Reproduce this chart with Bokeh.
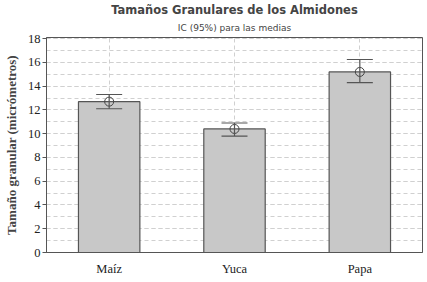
from bokeh.plotting import figure
from bokeh.models import ColumnDataSource, Whisker, TeeHead, Title, FixedTicker
from bokeh.embed import file_html
from bokeh.resources import INLINE

categories = ["Maíz", "Yuca", "Papa"]
means = [12.7, 10.4, 15.2]
lower = [12.1, 9.8, 14.3]
upper = [13.3, 10.9, 16.25]
y_ticks = [0, 2, 4, 6, 8, 10, 12, 14, 16, 18]

src = ColumnDataSource(dict(cat=categories, mean=means, lo=lower, hi=upper))

p = figure(x_range=categories, y_range=(0, 18.1), frame_width=376, frame_height=215,
           output_backend="svg", toolbar_location=None,
           min_border_left=2, min_border_right=2, min_border_bottom=2,
           min_border_top=2)
p.background_fill_color = "white"
p.border_fill_color = "white"
p.outline_line_color = "#555555"
p.outline_line_width = 1

p.title.text = "Tamaños Granulares de los Almidones"
p.title.text_font = "DejaVu Sans"
p.title.text_font_style = "bold"
p.title.text_font_size = "11.5px"
p.title.align = "center"
p.title.offset = -12
p.title.standoff = 0
sub = Title(text="IC (95%) para las medias", text_font="DejaVu Sans",
            text_font_style="normal", text_font_size="9px", align="center",
            offset=-12, standoff=9)
p.add_layout(sub, "above")

p.vbar(x="cat", top="mean", width=0.49, source=src, fill_color="#c8c8c8",
       line_color="#555555", line_width=1.2)

w = Whisker(base="cat", lower="lo", upper="hi", source=src, level="overlay",
            line_color="#555555", line_width=1.2,
            upper_head=TeeHead(size=26, line_color="#555555", line_width=1.2),
            lower_head=TeeHead(size=26, line_color="#555555", line_width=1.2))
p.add_layout(w)
p.scatter(x="cat", y="mean", source=src, marker="circle", size=9, level="overlay",
          fill_color=None, line_color="#444444", line_width=1)

p.yaxis.ticker = FixedTicker(ticks=y_ticks, minor_ticks=list(range(0, 19)))
p.yaxis.axis_label = "Tamaño granular (micrómetros)"
p.yaxis.axis_label_text_font = "Liberation Serif"
p.yaxis.axis_label_text_font_style = "bold"
p.yaxis.axis_label_text_font_size = "13px"
p.yaxis.axis_label_standoff = 6
p.axis.major_label_text_font = "Liberation Serif"
p.axis.major_label_text_font_size = "12.5px"
p.axis.major_label_text_color = "#222222"
p.axis.axis_line_color = "#555555"
p.yaxis.major_tick_line_color = "#555555"
p.yaxis.major_tick_out = 4
p.yaxis.major_tick_in = 0
p.yaxis.minor_tick_line_color = None
p.yaxis.major_label_standoff = 2
p.xaxis.major_tick_line_color = None
p.xaxis.major_label_standoff = 3

p.ygrid.grid_line_color = "#d0d0d0"
p.ygrid.grid_line_dash = "4 3"
p.ygrid.minor_grid_line_color = "#d0d0d0"
p.ygrid.minor_grid_line_dash = "4 3"
p.xgrid.grid_line_color = "#d0d0d0"
p.xgrid.grid_line_dash = "4 3"

open("out.html", "w").write(file_html(p, INLINE))
